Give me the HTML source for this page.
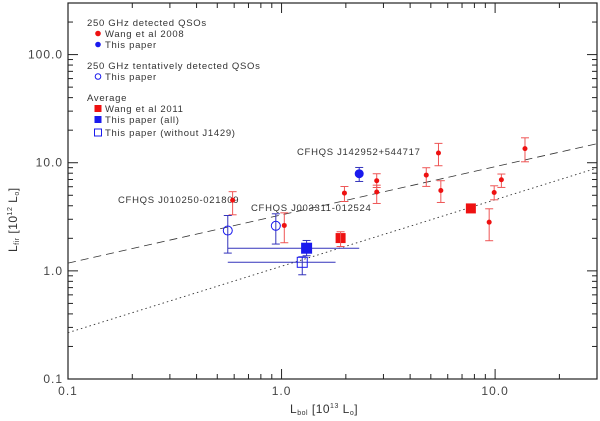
<!DOCTYPE html>
<html><head><meta charset="utf-8"><style>
body{margin:0;background:#fff}
svg{display:block;font-family:"Liberation Sans",sans-serif}
</style></head><body>
<svg id="chart" width="600" height="421" viewBox="0 0 600 421"></svg>
<script>
const wangX=[1.97,2.79,2.79,4.76,5.43,5.57,9.9,10.7,9.38,13.8,1.03,0.59];
const wangY=[5.24,6.82,5.36,7.69,12.3,5.54,5.31,6.96,2.82,13.5,2.63,4.5];
const wangLo=[4.38,5.9,4.2,6.04,9.38,4.29,4.54,5.91,1.9,10.2,1.82,3.3];
const wangHi=[6.03,7.91,6.2,8.99,15.1,6.82,6.12,7.86,3.75,17.0,3.44,5.4];
const thisX=[2.31], thisY=[7.91], thisLo=[6.71], thisHi=[9.04];
const tentX=[0.56,0.94], tentY=[2.36,2.61], tentLo=[1.46,1.77], tentHi=[3.25,3.37];
const avgWangX=[1.89,7.7], avgWangY=[2.01,3.78];
const avgAllX=[1.31], avgAllY=[1.62], avgAllXLo=[0.56], avgAllXHi=[2.31], avgAllYLo=[1.38], avgAllYHi=[1.91];
const avgNoX=[1.25], avgNoY=[1.2], avgNoXLo=[0.56], avgNoXHi=[1.79], avgNoYLo=[0.92], avgNoYHi=[1.35];
const dashedFit=[1.18,15.0], dottedFit=[0.268,8.93];
const xTickLabels=["0.1","1.0","10.0"], xTickVals=[0.1,1,10];
const yTickLabels=["0.1","1.0","10.0","100.0"], yTickVals=[0.1,1,10,100];

const L=68,R=597,T=3,B=379;
const xMin=0.1,xMax=30,yMin=0.1,yMax=300;
const sx=v=>L+(Math.log10(v)-Math.log10(xMin))/(Math.log10(xMax)-Math.log10(xMin))*(R-L);
const sy=v=>B-(Math.log10(v)-Math.log10(yMin))/(Math.log10(yMax)-Math.log10(yMin))*(B-T);
const svg=document.getElementById('chart');
const NS='http://www.w3.org/2000/svg';
function mk(tag,attrs,parent){const e=document.createElementNS(NS,tag);for(const k in attrs)e.setAttribute(k,attrs[k]);(parent||svg).appendChild(e);return e;}
const RED='#ee1111', BLUE='#1a1aee', EBLUE='#3333bb', ERED='#ee5555';

const frame=mk('rect',{x:L,y:T,width:R-L,height:B-T,fill:'none',stroke:'#222','stroke-width':1.2});


const ticks=mk('g',{stroke:'#222','stroke-width':1});


for(let d=0.1;d<30;d*=10){for(let m=1;m<10;m++){const v=d*m;if(v>xMax)break;const x=sx(v);const len=m===1?10:5;
mk('line',{x1:x,y1:B,x2:x,y2:B-len},ticks);mk('line',{x1:x,y1:T,x2:x,y2:T+len},ticks);}}
for(let d=0.1;d<300;d*=10){for(let m=1;m<10;m++){const v=d*m;if(v>yMax*1.001)break;const y=sy(v);const len=m===1?10:5;
mk('line',{x1:L,y1:y,x2:L+len,y2:y},ticks);mk('line',{x1:R,y1:y,x2:R-len,y2:y},ticks);}}
xTickLabels.forEach((t,i)=>{const e=mk('text',{x:sx(xTickVals[i]),y:395,'text-anchor':'middle','font-size':12,'letter-spacing':1,fill:'#444'});e.textContent=t;

});
yTickLabels.forEach((t,i)=>{const e=mk('text',{x:63,y:sy(yTickVals[i])+4,'text-anchor':'end','font-size':12,'letter-spacing':1,fill:'#444'});e.textContent=t;

});
const xt=mk('text',{x:290,y:413,'font-size':12,'letter-spacing':0.5,fill:'#333'});
xt.innerHTML='L<tspan font-size="7" dy="2">bol</tspan><tspan dy="-2"> [10</tspan><tspan font-size="7" dy="-5">13</tspan><tspan dy="5"> L</tspan><tspan font-size="7" dy="2">o</tspan><tspan dy="-2">]</tspan>';


const yt=mk('text',{x:0,y:0,'font-size':12,'letter-spacing':0.5,fill:'#333',transform:'translate(17,252) rotate(-90)'});
yt.innerHTML='L<tspan font-size="7" dy="2">fir</tspan><tspan dy="-2"> [10</tspan><tspan font-size="7" dy="-5">12</tspan><tspan dy="5"> L</tspan><tspan font-size="7" dy="2">o</tspan><tspan dy="-2">]</tspan>';


const dl=mk('line',{x1:sx(xMin),y1:sy(dashedFit[0]),x2:sx(xMax),y2:sy(dashedFit[1]),stroke:'#333','stroke-dasharray':'8,5','stroke-width':0.8});


const dt=mk('line',{x1:sx(xMin),y1:sy(dottedFit[0]),x2:sx(xMax),y2:sy(dottedFit[1]),stroke:'#333','stroke-dasharray':'1.5,3','stroke-width':0.9});


function ebar(x,lo,hi,col,g){const X=sx(x);mk('line',{x1:X,y1:sy(lo),x2:X,y2:sy(hi),stroke:col},g);
mk('line',{x1:X-4,y1:sy(lo),x2:X+4,y2:sy(lo),stroke:col},g);mk('line',{x1:X-4,y1:sy(hi),x2:X+4,y2:sy(hi),stroke:col},g);}
[["CFHQS J142952+544717",297,155],["CFHQS J010250-021809",118,203],["CFHQS J003311-012524",251,211]].forEach(a=>{
const e=mk('text',{x:a[1],y:a[2],'font-size':9.5,'letter-spacing':0.7,fill:'#333'});e.textContent=a[0];

});
wangX.forEach((x,i)=>{const g=mk('g',{});


ebar(x,wangLo[i],wangHi[i],ERED,g);mk('circle',{cx:sx(x),cy:sy(wangY[i]),r:2.5,fill:RED},g);});
thisX.forEach((x,i)=>{const g=mk('g',{});


ebar(x,thisLo[i],thisHi[i],EBLUE,g);mk('circle',{cx:sx(x),cy:sy(thisY[i]),r:4.5,fill:BLUE},g);});
tentX.forEach((x,i)=>{const g=mk('g',{});


ebar(x,tentLo[i],tentHi[i],EBLUE,g);mk('circle',{cx:sx(x),cy:sy(tentY[i]),r:4.5,fill:'none',stroke:BLUE},g);});
avgWangX.forEach((x,i)=>{const s=mk('rect',{x:sx(x)-5,y:sy(avgWangY[i])-5,width:10,height:10,fill:RED});

});
const ew=mk('g',{stroke:ERED});ebar(avgWangX[0],1.68,2.30,ERED,ew);


function avg(xs,ys,xl,xh,yl,yh,filled,name){xs.forEach((x,i)=>{const g=mk('g',{});


mk('line',{x1:sx(xl[i]),y1:sy(ys[i]),x2:sx(xh[i]),y2:sy(ys[i]),stroke:EBLUE},g);
ebar(x,yl[i],yh[i],EBLUE,g);
mk('rect',{x:sx(x)-5,y:sy(ys[i])-5,width:10,height:10,fill:filled?BLUE:'none',stroke:BLUE},g);});}
avg(avgAllX,avgAllY,avgAllXLo,avgAllXHi,avgAllYLo,avgAllYHi,true,'average-all');
avg(avgNoX,avgNoY,avgNoXLo,avgNoXHi,avgNoYLo,avgNoYHi,false,'average-without-j1429');
const lg=mk('g',{'font-size':9.5,'letter-spacing':0.7,fill:'#333'});


const rows=[["250 GHz detected QSOs",26,null],["Wang et al 2008",37,'rc'],["This paper",48,'bc'],["250 GHz tentatively detected QSOs",69,null],["This paper",80,'oc'],["Average",101,null],["Wang et al 2011",112,'rs'],["This paper (all)",123,'bs'],["This paper (without J1429)",136,'os']];
rows.forEach(r=>{const t=mk('text',{x:r[2]?105:87,y:r[1]},lg);t.textContent=r[0];
const c=r[1]-3.5;
if(r[2]==='rc')mk('circle',{cx:98,cy:c,r:2.8,fill:RED},lg);
if(r[2]==='bc')mk('circle',{cx:98,cy:c,r:2.8,fill:BLUE},lg);
if(r[2]==='oc')mk('circle',{cx:98,cy:c,r:2.8,fill:'none',stroke:BLUE},lg);
if(r[2]==='rs')mk('rect',{x:94.5,y:c-3.5,width:7,height:7,fill:RED},lg);
if(r[2]==='bs')mk('rect',{x:94.5,y:c-3.5,width:7,height:7,fill:BLUE},lg);
if(r[2]==='os')mk('rect',{x:94.5,y:c-3.5,width:7,height:7,fill:'none',stroke:BLUE},lg);});
</script>
</body></html>
